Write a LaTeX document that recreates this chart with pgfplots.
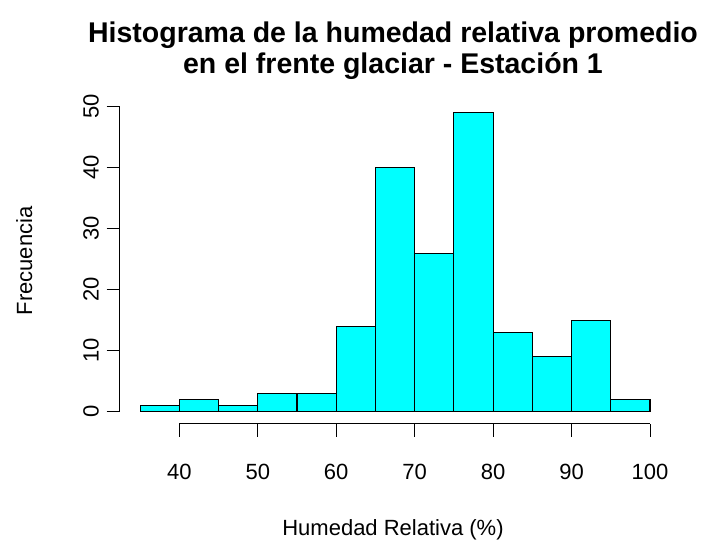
\documentclass[border=0pt]{standalone}
\usepackage{pgfplots}
\pgfplotsset{compat=1.18}
\usepackage{fontspec}
\setmainfont{Liberation Sans}
\definecolor{rcyan}{RGB}{0,255,255}
\begin{document}
\begin{tikzpicture}[x=1pt,y=1pt]
\path[use as bounding box] (0,0) rectangle (703,539);
\begin{axis}[
  at={(119.7pt,115.3pt)}, anchor=south west,
  scale only axis, width=550.7pt, height=322.8pt,
  xmin=32.4, xmax=102.6, ymin=-1.96, ymax=50.96,
  axis x line*=bottom, axis y line*=left,
  axis line style={draw=none},
  xtick={40,50,...,100}, ytick={0,10,...,50},
  tick align=outside, major tick length=13pt,
  tick style={black, line width=0.9pt},
  /pgf/number format/assume math mode=true,
  ticklabel style={font=\fontsize{22}{26}\selectfont},
  xticklabel style={anchor=base, yshift=-42.7pt},
  yticklabel style={rotate=90, anchor=base},
  yticklabel={\raisebox{8pt}{\pgfmathprintnumber{\tick}}},
  clip=false,
]
\addplot[ybar interval, fill=rcyan, draw=black, line width=1.1pt] coordinates {
(35,1) (40,2) (45,1) (50,3) (55,3) (60,14) (65,40) (70,26) (75,49) (80,13) (85,9) (90,15) (95,2) (100,2)};
\draw[line width=0.9pt] (axis cs:40,-1.96) -- (axis cs:100,-1.96);
\draw[line width=0.9pt] (axis cs:32.4,0) -- (axis cs:32.4,50);
\end{axis}
\node[font=\fontsize{28.5}{33}\selectfont\bfseries, align=center, anchor=base] at (393,539-43) {Histograma de la humedad relativa promedio};
\node[font=\fontsize{28.5}{33}\selectfont\bfseries, align=center, anchor=base] at (393,539-74) {en el frente glaciar - Estación 1};
\node[font=\fontsize{22}{26}\selectfont, anchor=base] at (393,4) {Humedad Relativa (\%)};
\node[font=\fontsize{22}{26}\selectfont, anchor=base, rotate=90] at (32,539-261) {Frecuencia};
\end{tikzpicture}
\end{document}
